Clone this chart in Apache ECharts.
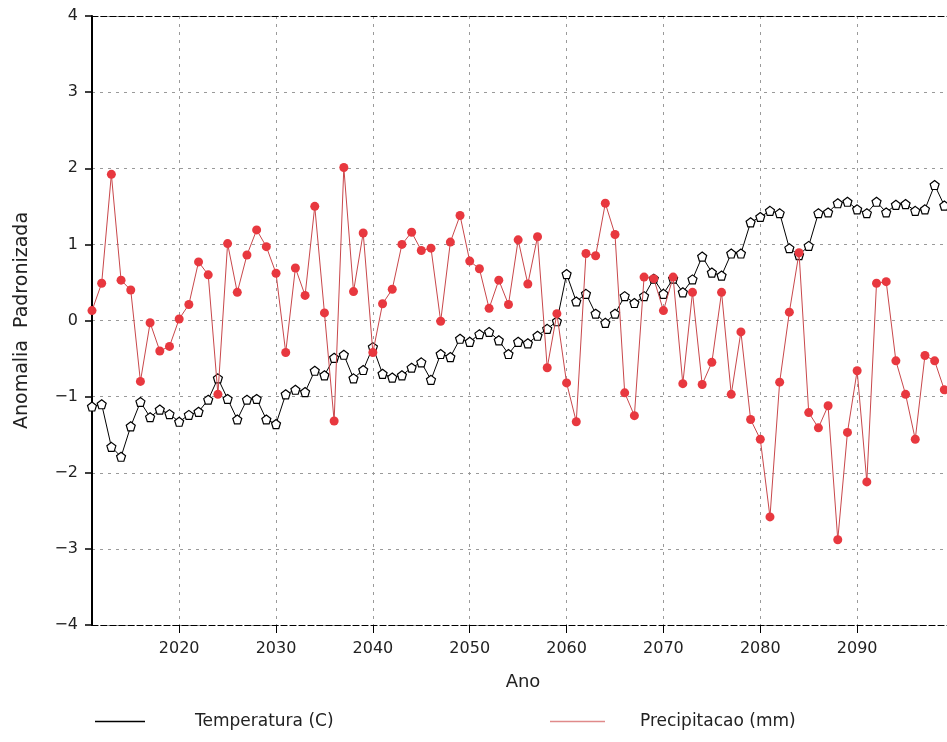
<!DOCTYPE html>
<html>
<head>
<meta charset="utf-8">
<script src="https://cdn.jsdelivr.net/npm/echarts@6/dist/echarts.min.js"></script>
<style>
html,body{margin:0;padding:0;background:#fff;}
#chart{width:947px;height:742px;}
</style>
</head>
<body>
<div id="chart"></div>
<script>
var startYear = 2011;
var xTickYears = [2020, 2030, 2040, 2050, 2060, 2070, 2080, 2090, 2100];
var xLabelYears = [2020, 2030, 2040, 2050, 2060, 2070, 2080, 2090];
var yTicks = [-4, -3, -2, -1, 0, 1, 2, 3, 4];

var temperatura = [
  -1.13, -1.10, -1.66, -1.79, -1.39, -1.07, -1.27, -1.17, -1.23, -1.33,
  -1.24, -1.20, -1.04, -0.76, -1.03, -1.30, -1.04, -1.03, -1.30, -1.36,
  -0.97, -0.91, -0.94, -0.66, -0.72, -0.49, -0.45, -0.76, -0.65, -0.35,
  -0.70, -0.75, -0.72, -0.62, -0.55, -0.78, -0.44, -0.48, -0.24, -0.28,
  -0.18, -0.15, -0.26, -0.44, -0.28, -0.30, -0.20, -0.11, -0.01, 0.61,
  0.25, 0.35, 0.09, -0.03, 0.09, 0.32, 0.23, 0.32, 0.55, 0.35,
  0.55, 0.37, 0.54, 0.84, 0.63, 0.59, 0.88, 0.88, 1.29, 1.36,
  1.44, 1.41, 0.95, 0.86, 0.98, 1.41, 1.42, 1.54, 1.56, 1.46,
  1.41, 1.56, 1.42, 1.52, 1.53, 1.44, 1.46, 1.78, 1.51
];

var precipitacao = [
  0.13, 0.49, 1.92, 0.53, 0.40, -0.80, -0.03, -0.40, -0.34, 0.02,
  0.21, 0.77, 0.60, -0.97, 1.01, 0.37, 0.86, 1.19, 0.97, 0.62,
  -0.42, 0.69, 0.33, 1.50, 0.10, -1.32, 2.01, 0.38, 1.15, -0.42,
  0.22, 0.41, 1.00, 1.16, 0.92, 0.95, -0.01, 1.03, 1.38, 0.78,
  0.68, 0.16, 0.53, 0.21, 1.06, 0.48, 1.10, -0.62, 0.09, -0.82,
  -1.33, 0.88, 0.85, 1.54, 1.13, -0.95, -1.25, 0.57, 0.55, 0.13,
  0.57, -0.83, 0.37, -0.84, -0.55, 0.37, -0.97, -0.15, -1.30, -1.56,
  -2.58, -0.81, 0.11, 0.89, -1.21, -1.41, -1.12, -2.88, -1.47, -0.66,
  -2.12, 0.49, 0.51, -0.53, -0.97, -1.56, -0.46, -0.53, -0.91
];

function pairs(vals) {
  return vals.map(function (v, i) { return [startYear + i, v]; });
}

var FONT = '"DejaVu Sans", sans-serif';
var gridLine = { show: true, lineStyle: { color: '#9a9a9a', width: 1, type: [3, 5] } };
var pentagon = 'path://M0,-10 L9.51,-3.09 L5.88,8.09 L-5.88,8.09 L-9.51,-3.09 Z';

var chart = echarts.init(document.getElementById('chart'), null, { renderer: 'canvas' });
chart.setOption({
  animation: false,
  backgroundColor: '#fff',
  grid: { left: 92, right: -7, top: 16, bottom: 117, containLabel: false, outerBoundsMode: 'none' },
  xAxis: [{
    type: 'value',
    min: 2011,
    max: 2100,
    position: 'bottom',
    name: 'Ano',
    nameLocation: 'middle',
    nameGap: 48,
    nameTextStyle: { fontFamily: FONT, fontSize: 18, color: '#222' },
    axisLine: { show: true, onZero: false, lineStyle: { color: '#000', width: 1.2, type: [6, 3] } },
    axisTick: { show: true, inside: false, length: 8, customValues: xTickYears, lineStyle: { color: '#000' } },
    axisLabel: {
      show: true, customValues: xLabelYears, margin: 16, fontFamily: FONT, fontSize: 16, color: '#222',
      formatter: function (v) { return String(v); }
    },
    splitLine: gridLine
  }, {
    type: 'value',
    min: 2011,
    max: 2100,
    position: 'top',
    axisLine: { show: true, onZero: false, lineStyle: { color: '#000', width: 1.2, type: [6, 3] } },
    axisTick: { show: false },
    axisLabel: { show: false },
    splitLine: { show: false }
  }],
  yAxis: {
    type: 'value',
    min: -4,
    max: 4,
    interval: 1,
    name: 'Anomalia  Padronizada',
    nameLocation: 'middle',
    nameGap: 60,
    nameRotate: 90,
    nameTextStyle: { fontFamily: FONT, fontSize: 19, color: '#222' },
    axisLine: { show: true, onZero: false, lineStyle: { color: '#000', width: 2 } },
    axisTick: { show: true, inside: false, length: 7, lineStyle: { color: '#000', width: 1.5 } },
    axisLabel: {
      margin: 14, fontFamily: FONT, fontSize: 16, color: '#222',
      formatter: function (v) { return v < 0 ? '\u2212' + Math.abs(v) : String(v); }
    },
    splitLine: gridLine
  },
  legend: [{
    data: [{ name: 'Temperatura (C)', icon: 'rect', itemStyle: { color: '#000', borderWidth: 0 } }],
    left: 90, top: 708,
    itemWidth: 50, itemHeight: 1.5,
    formatter: '{t|{name}}',
    textStyle: { fontFamily: FONT, fontSize: 17, color: '#222', rich: { t: { fontFamily: FONT, fontSize: 17, color: '#222', padding: [0, 0, 0, 45] } } }
  }, {
    data: [{ name: 'Precipitacao (mm)', icon: 'rect', itemStyle: { color: '#e08a8a', borderWidth: 0 } }],
    left: 545, top: 708,
    itemWidth: 55, itemHeight: 1.5,
    formatter: '{t|{name}}',
    textStyle: { fontFamily: FONT, fontSize: 17, color: '#222', rich: { t: { fontFamily: FONT, fontSize: 17, color: '#222', padding: [0, 0, 0, 30] } } }
  }],
  series: [{
    name: 'Temperatura (C)',
    type: 'line',
    data: pairs(temperatura),
    symbol: pentagon,
    symbolSize: 9,
    showAllSymbol: true,
    lineStyle: { color: '#000', width: 1 },
    itemStyle: { color: '#fff', borderColor: '#000', borderWidth: 1.2 },
    z: 3
  }, {
    name: 'Precipitacao (mm)',
    type: 'line',
    data: pairs(precipitacao),
    symbol: 'circle',
    symbolSize: 9,
    showAllSymbol: true,
    lineStyle: { color: '#c9474b', width: 1 },
    itemStyle: { color: '#e8383f', borderWidth: 0 },
    z: 4
  }]
});
</script>
</body>
</html>
